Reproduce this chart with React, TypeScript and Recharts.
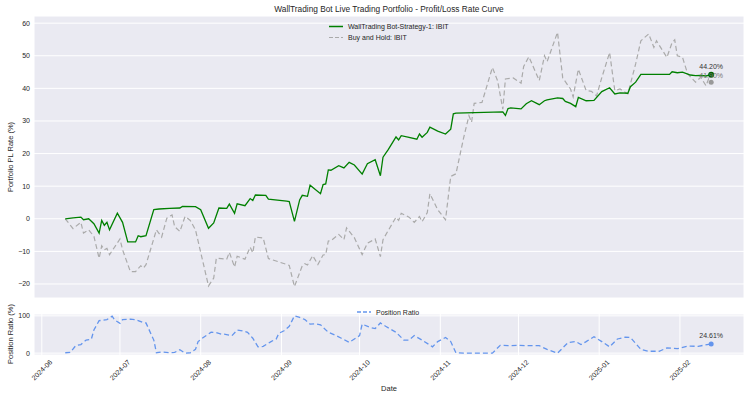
import React from "react";
import { CartesianGrid, Line, LineChart, ReferenceDot, XAxis, YAxis } from "recharts";

const title = "WallTrading Bot Live Trading Portfolio - Profit/Loss Rate Curve";
const strategyName = "WallTrading Bot-Strategy-1: IBIT";
const holdName = "Buy and Hold: IBIT";
const positionName = "Position Ratio";

const monthTicks = ["2024-06", "2024-07", "2024-08", "2024-09", "2024-10", "2024-11", "2024-12", "2025-01", "2025-02"];
const plTicks = [-20, -10, 0, 10, 20, 30, 40, 50, 60];
const positionTicks = [0, 100];

const strategyDates = [
  "2024-06-10", "2024-06-13", "2024-06-16", "2024-06-17", "2024-06-19", "2024-06-21", "2024-06-23", "2024-06-24", "2024-06-25", "2024-06-26", "2024-06-27", "2024-06-30",
  "2024-07-02", "2024-07-04", "2024-07-07", "2024-07-08", "2024-07-09", "2024-07-11", "2024-07-14", "2024-07-16", "2024-07-20", "2024-07-24", "2024-07-25", "2024-07-30",
  "2024-08-01", "2024-08-04", "2024-08-06", "2024-08-08", "2024-08-11", "2024-08-12", "2024-08-14", "2024-08-15", "2024-08-18", "2024-08-20", "2024-08-21", "2024-08-22", "2024-08-26", "2024-08-27",
  "2024-09-03", "2024-09-04", "2024-09-06", "2024-09-08", "2024-09-09", "2024-09-11", "2024-09-12", "2024-09-16", "2024-09-17", "2024-09-18", "2024-09-19", "2024-09-20", "2024-09-23", "2024-09-25", "2024-09-27", "2024-09-29",
  "2024-10-02", "2024-10-04", "2024-10-07", "2024-10-09", "2024-10-10", "2024-10-12", "2024-10-15", "2024-10-16", "2024-10-17", "2024-10-20", "2024-10-23", "2024-10-24", "2024-10-25", "2024-10-27", "2024-10-28", "2024-10-31",
  "2024-11-03", "2024-11-05", "2024-11-06", "2024-11-07", "2024-11-25", "2024-11-26", "2024-11-27", "2024-11-28",
  "2024-12-02", "2024-12-04", "2024-12-06", "2024-12-09", "2024-12-11", "2024-12-12", "2024-12-16", "2024-12-18", "2024-12-19", "2024-12-21", "2024-12-23", "2024-12-24", "2024-12-27", "2024-12-30",
  "2025-01-02", "2025-01-05", "2025-01-07", "2025-01-09", "2025-01-12", "2025-01-13", "2025-01-15", "2025-01-17", "2025-01-28", "2025-01-29", "2025-01-31",
  "2025-02-02", "2025-02-05", "2025-02-07", "2025-02-09", "2025-02-11", "2025-02-13",
];
const strategyPL = [
  0, 0.3, 0.5, -0.3, 0, -1.5, -4.4, -0.5, -2, -1.1, -3.4, 1.7,
  -1.1, -7.1, -7.1, -5.2, -5.5, -5.2, 2.8, 3.0, 3.2, 3.3, 3.8, 3.7,
  2.8, -2.9, -1.3, 3.3, 3.2, 4.5, 1.7, 4.6, 4.0, 6.2, 5.6, 7.3, 7.2, 6.0,
  5.4, 5.3, -0.8, 5.8, 7.2, 6.9, 10.3, 7.7, 10.5, 10.7, 15, 14.9, 16.3, 15.6, 17.3, 16.5,
  13.7, 16.9, 18.1, 13.2, 18.9, 21.2, 25.1, 24.2, 25.5, 25, 24.4, 26, 25, 26.5, 28.1, 26.9,
  26, 27.5, 32.2, 32.4, 32.8, 31.7, 33.8, 34,
  33.7, 35.3, 36.2, 35, 36.2, 36.5, 37.1, 36.9, 36, 35.4, 34.4, 37.2, 36.2, 36.3,
  39, 40.2, 38.3, 38.6, 38.5, 40.5, 41.9, 44.3, 44.3, 45.1, 44.8,
  45, 44.1, 43.9, 44, 43.8, 44.2,
];

const holdDates = [
  "2024-06-10", "2024-06-13", "2024-06-16", "2024-06-17", "2024-06-19", "2024-06-21", "2024-06-23", "2024-06-24", "2024-06-25", "2024-06-26", "2024-06-27",
  "2024-07-01", "2024-07-02", "2024-07-05", "2024-07-07", "2024-07-09", "2024-07-10", "2024-07-11", "2024-07-15", "2024-07-17", "2024-07-19", "2024-07-21", "2024-07-22", "2024-07-24", "2024-07-26", "2024-07-28", "2024-07-30",
  "2024-08-04", "2024-08-06", "2024-08-07", "2024-08-11", "2024-08-12", "2024-08-14", "2024-08-15", "2024-08-18", "2024-08-20", "2024-08-21", "2024-08-22", "2024-08-25", "2024-08-27",
  "2024-09-03", "2024-09-04", "2024-09-06", "2024-09-09", "2024-09-10", "2024-09-11", "2024-09-13", "2024-09-15", "2024-09-17", "2024-09-18", "2024-09-19", "2024-09-20", "2024-09-23", "2024-09-25", "2024-09-26", "2024-09-29",
  "2024-10-02", "2024-10-04", "2024-10-07", "2024-10-09", "2024-10-10", "2024-10-12", "2024-10-15", "2024-10-16", "2024-10-17", "2024-10-20", "2024-10-22", "2024-10-24", "2024-10-25", "2024-10-27", "2024-10-28", "2024-10-31",
  "2024-11-03", "2024-11-05", "2024-11-07", "2024-11-10", "2024-11-12", "2024-11-13", "2024-11-14", "2024-11-17", "2024-11-21", "2024-11-23", "2024-11-25", "2024-11-26", "2024-11-29",
  "2024-12-02", "2024-12-03", "2024-12-05", "2024-12-09", "2024-12-11", "2024-12-12", "2024-12-16", "2024-12-18", "2024-12-21", "2024-12-22", "2024-12-24", "2024-12-27", "2024-12-29", "2024-12-31",
  "2025-01-02", "2025-01-05", "2025-01-07", "2025-01-09", "2025-01-12", "2025-01-15", "2025-01-17", "2025-01-20", "2025-01-22", "2025-01-23", "2025-01-27", "2025-01-29", "2025-01-30", "2025-01-31",
  "2025-02-02", "2025-02-04", "2025-02-07", "2025-02-09", "2025-02-11", "2025-02-12", "2025-02-13",
];
const holdPL = [
  0, -3, -1.1, -4.4, -3.4, -5.4, -12.1, -8.3, -9.5, -9.1, -11,
  -6.2, -9.5, -16.2, -16.2, -14.4, -15.1, -14.1, -3.4, -5.6, 0.2, 1.2, -2.4, -3.9, 0.7, -0.5, -3.4,
  -20.6, -18.2, -12.1, -12.4, -10.3, -14.8, -11.5, -12.4, -8.7, -10.5, -5.6, -5.9, -12.2,
  -14, -14.3, -20.8, -14.4, -13.8, -14.2, -11.3, -14, -11.1, -11, -6.8, -6.7, -4.8, -6.4, -2.8, -5.8,
  -11, -7.5, -6.2, -11.6, -6.4, -3.6, 0.5, -0.5, 1.7, 0.5, -1.1, 0.7, -0.9, 1.9, 7.7, 2.8,
  -0.3, 13, 13.8, 25, 31.6, 29.6, 35.4, 35.7, 46.4, 42.3, 33.6, 42.9, 43.2,
  41.6, 46.7, 49.7, 42.4, 50, 48.2, 57.2, 43.2, 39.8, 37.4, 45.9, 39.3, 39.1, 37.7,
  43.3, 51, 39.3, 39.8, 38.3, 47.5, 54.6, 56.7, 52.6, 54.6, 49.5, 54.1, 54.9, 50,
  49.5, 44.4, 41.9, 43.4, 40.8, 42.9, 41.9,
];

const positionDates = [
  "2024-06-10", "2024-06-12", "2024-06-14", "2024-06-16", "2024-06-18", "2024-06-20", "2024-06-21", "2024-06-23", "2024-06-26", "2024-06-28", "2024-06-29",
  "2024-07-01", "2024-07-02", "2024-07-05", "2024-07-07", "2024-07-10", "2024-07-11", "2024-07-14", "2024-07-15", "2024-07-17", "2024-07-20", "2024-07-22", "2024-07-24", "2024-07-26", "2024-07-28", "2024-07-30", "2024-07-31",
  "2024-08-02", "2024-08-05", "2024-08-07", "2024-08-09", "2024-08-10", "2024-08-13", "2024-08-15", "2024-08-17", "2024-08-19", "2024-08-21", "2024-08-23", "2024-08-25", "2024-08-28", "2024-08-30", "2024-08-31",
  "2024-09-02", "2024-09-04", "2024-09-06", "2024-09-08", "2024-09-10", "2024-09-12", "2024-09-14", "2024-09-16", "2024-09-19", "2024-09-22", "2024-09-24", "2024-09-27", "2024-09-29",
  "2024-10-01", "2024-10-02", "2024-10-05", "2024-10-07", "2024-10-09", "2024-10-11", "2024-10-13", "2024-10-15", "2024-10-18", "2024-10-20", "2024-10-22", "2024-10-25", "2024-10-29", "2024-10-31",
  "2024-11-03", "2024-11-05", "2024-11-07", "2024-11-10", "2024-11-21", "2024-11-24", "2024-11-27",
  "2024-12-01", "2024-12-04", "2024-12-09", "2024-12-12", "2024-12-16", "2024-12-20", "2024-12-23", "2024-12-25", "2024-12-27", "2024-12-30",
  "2025-01-02", "2025-01-05", "2025-01-08", "2025-01-11", "2025-01-13", "2025-01-17", "2025-01-20", "2025-01-24", "2025-01-27", "2025-01-31",
  "2025-02-04", "2025-02-05", "2025-02-08", "2025-02-10", "2025-02-13",
];
const positionRatio = [
  1, 2, 20, 23, 35, 37, 62, 87, 90, 99, 89,
  80, 90, 91, 90, 82, 81, 35, 1, 3, 1, 2, 9, 0, 1, 10, 31,
  42, 56, 55, 51, 51, 47, 62, 60, 56, 40, 17, 18, 31, 38, 53,
  60, 72, 100, 96, 90, 78, 79, 76, 56, 47, 40, 29, 38,
  47, 78, 69, 66, 81, 72, 64, 56, 35, 35, 47, 35, 17, 31,
  42, 31, 1, 0, 0, 21, 20,
  21, 20, 20, 10, 0, 28, 31, 23, 31, 44,
  31, 17, 38, 43, 42, 10, 5, 5, 14, 12,
  19, 19, 18, 21, 24.61,
];

const DAY = 86400000;
const ts = (d: string) => Date.parse(d + "T00:00:00Z");
const xDomain = [ts("2024-05-29"), ts("2025-02-25") + 0.6 * DAY];
const monthTs = monthTicks.map((m) => ts(m + "-01"));
const font = "'Liberation Sans', Arial, sans-serif";
const textColor = "#262626";

// strategy + buy&hold share one table keyed by date
const plRows = (() => {
  const rows = new Map<number, { t: number; strategy?: number; hold?: number }>();
  strategyDates.forEach((d, i) => {
    const t = ts(d);
    rows.set(t, { ...(rows.get(t) || { t }), strategy: strategyPL[i] });
  });
  holdDates.forEach((d, i) => {
    const t = ts(d);
    rows.set(t, { ...(rows.get(t) || { t }), hold: holdPL[i] });
  });
  return [...rows.values()].sort((a, b) => a.t - b.t);
})();
const positionRows = positionDates.map((d, i) => ({ t: ts(d), ratio: positionRatio[i] }));

const lastStrategy = strategyPL[strategyPL.length - 1];
const lastHold = holdPL[holdPL.length - 1];
const lastPosition = positionRatio[positionRatio.length - 1];

const signed = (v: number) => (v < 0 ? "\u2212" + Math.abs(v) : String(v));
const yTick = { fontSize: 7, fill: textColor, fontFamily: font };

const DateTick = ({ x, y, payload }: any) => {
  const cy = y + 15;
  const label = new Date(payload.value).toISOString().slice(0, 7);
  return (
    <text
      x={x}
      y={cy}
      transform={`rotate(-45 ${x} ${cy})`}
      textAnchor="middle"
      dominantBaseline="central"
      fontSize={7}
      fontFamily={font}
      fill={textColor}
    >
      {label}
    </text>
  );
};

const App = () => (
  <div style={{ position: "absolute", left: 0, top: 0, width: 750, height: 400, background: "#fff", fontFamily: font }}>
    <div style={{ position: "absolute", left: 0, top: 0 }}>
      <LineChart width={750} height={300} data={plRows} margin={{ top: 16, right: 6, bottom: 0, left: 0 }}>
        <CartesianGrid fill="#EAEAF2" stroke="#ffffff" strokeWidth={1} />
        <XAxis
          type="number"
          dataKey="t"
          domain={xDomain}
          ticks={monthTs}
          allowDataOverflow
          tick={false}
          tickLine={false}
          axisLine={false}
          height={2}
        />
        <YAxis
          type="number"
          domain={[-24.3, 62.2]}
          ticks={plTicks}
          allowDataOverflow
          width={34}
          tickSize={0}
          tickMargin={4}
          tickLine={false}
          axisLine={false}
          tick={yTick}
          tickFormatter={signed}
        />
        <Line
          dataKey="hold"
          stroke="#aaaaaa"
          strokeWidth={1.2}
          strokeDasharray="5 3"
          dot={false}
          activeDot={false}
          connectNulls
          isAnimationActive={false}
        />
        <Line
          dataKey="strategy"
          stroke="#008000"
          strokeWidth={1.3}
          dot={false}
          activeDot={false}
          connectNulls
          isAnimationActive={false}
        />
        <ReferenceDot
          x={ts(holdDates[holdDates.length - 1])}
          y={lastHold}
          r={2.5}
          fill="#999999"
          stroke="none"
          label={{ value: lastHold.toFixed(2) + "%", position: "top", offset: 2, fontSize: 7, fill: "#777777", fontFamily: font }}
        />
        <ReferenceDot
          x={ts(strategyDates[strategyDates.length - 1])}
          y={lastStrategy}
          r={3}
          fill="#006400"
          stroke="none"
          label={{ value: lastStrategy.toFixed(2) + "%", position: "top", offset: 3, fontSize: 7, fill: "#333333", fontFamily: font }}
        />
      </LineChart>
    </div>
    <div style={{ position: "absolute", left: 0, top: 300 }}>
      <LineChart width={750} height={100} data={positionRows} margin={{ top: 14, right: 6, bottom: 0, left: 0 }}>
        <CartesianGrid fill="#EAEAF2" stroke="#ffffff" strokeWidth={1} />
        <XAxis
          type="number"
          dataKey="t"
          domain={xDomain}
          ticks={monthTs}
          allowDataOverflow
          interval={0}
          tick={<DateTick />}
          tickSize={0}
          tickMargin={0}
          tickLine={false}
          axisLine={false}
          height={45}
        />
        <YAxis
          type="number"
          domain={[-5, 105]}
          ticks={positionTicks}
          allowDataOverflow
          width={34}
          tickSize={0}
          tickMargin={4}
          tickLine={false}
          axisLine={false}
          tick={yTick}
        />
        <Line
          dataKey="ratio"
          stroke="#6495ED"
          strokeWidth={1.3}
          strokeDasharray="5 3"
          dot={false}
          activeDot={false}
          isAnimationActive={false}
        />
        <ReferenceDot
          x={ts(positionDates[positionDates.length - 1])}
          y={lastPosition}
          r={2.5}
          fill="#6495ED"
          stroke="none"
          label={{ value: lastPosition.toFixed(2) + "%", position: "top", offset: 3, fontSize: 7, fill: "#333333", fontFamily: font }}
        />
      </LineChart>
    </div>
    <svg width={750} height={400} style={{ position: "absolute", left: 0, top: 0, pointerEvents: "none" }}>
      <g fontFamily={font} fill={textColor}>
        <text x={389} y={12} textAnchor="middle" fontSize={8.3}>{title}</text>
        <text transform="translate(13,157) rotate(-90)" textAnchor="middle" fontSize={7.5}>Portfolio PL Rate (%)</text>
        <text transform="translate(13,334) rotate(-90)" textAnchor="middle" fontSize={7.5}>Position Ratio (%)</text>
        <text x={389} y={391} textAnchor="middle" fontSize={7.5}>Date</text>

        <line x1={329} y1={26.5} x2={343} y2={26.5} stroke="#008000" strokeWidth={1.5} />
        <text x={348} y={29} fontSize={7}>{strategyName}</text>
        <line x1={329} y1={37.5} x2={343} y2={37.5} stroke="#aaaaaa" strokeWidth={1.2} strokeDasharray="4 2" />
        <text x={348} y={40} fontSize={7}>{holdName}</text>

        <line x1={357} y1={312} x2={371} y2={312} stroke="#6495ED" strokeWidth={1.3} strokeDasharray="4 2" />
        <text x={376} y={314.5} fontSize={7}>{positionName}</text>
      </g>
    </svg>
  </div>
);

export default App;
